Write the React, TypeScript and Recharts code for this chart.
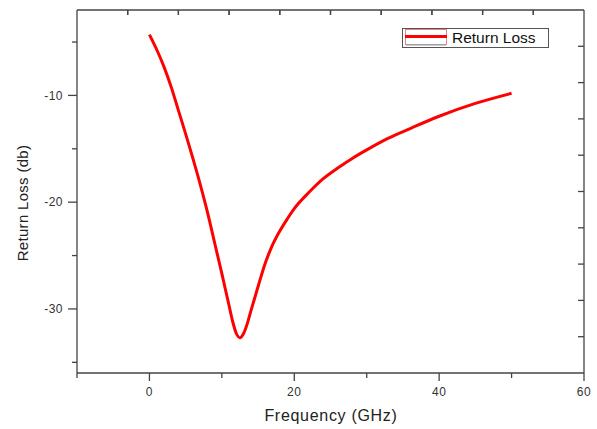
import React from 'react';
import { LineChart, Line, XAxis, YAxis, Legend, Label } from 'recharts';

const frequency = [0, 1, 2, 3, 4, 5, 6, 7, 8, 9, 10, 11, 11.5, 12, 12.5, 13, 13.5, 14, 15, 16, 17, 18, 19, 20, 22, 24, 26, 28, 30, 33, 36, 40, 45, 50];
const returnLoss = [-4.3, -5.7, -7.3, -9.2, -11.4, -13.6, -15.9, -18.3, -20.9, -23.8, -26.7, -29.7, -31.2, -32.3, -32.7, -32.3, -31.4, -30.2, -27.9, -25.7, -24.0, -22.7, -21.6, -20.6, -19.1, -17.8, -16.8, -15.9, -15.1, -14.0, -13.1, -11.95, -10.75, -9.8];

const xTicks = [-10, 0, 10, 20, 30, 40, 50, 60];
const yTicks = [-35, -30, -25, -20, -15, -10, -5];
const topTicks = [-3, 4, 11, 18, 25, 32, 39, 46, 53];
const rightTicks = [1, 2, 3, 4, 5, 6, 7, 8, 9];
const X_DOMAIN = [-10, 60];

const data = frequency.map((f, i) => ({ f, v: returnLoss[i] }));

const CHART_W = 597;
const CHART_H = 429;
const MARGIN = { top: 9, right: 12, bottom: 16, left: 17 };
const X_AXIS_H = 40;
const TOP_AXIS_H = 1;
const Y_AXIS_W = 60;
const RIGHT_AXIS_W = 1;
const PLOT_H = CHART_H - MARGIN.top - MARGIN.bottom - X_AXIS_H - TOP_AXIS_H;
const PLOT_W = CHART_W - MARGIN.left - MARGIN.right - Y_AXIS_W - RIGHT_AXIS_W;

const FONT = '"Liberation Sans", Arial, sans-serif';
const AXIS = '#444';
const TEXT = '#333';

const BottomTick = (props: any) => {
  const { x, y, payload } = props;
  const major = payload.value % 20 === 0;
  const len = major ? 8 : 5;
  return (
    <g>
      <line x1={x} x2={x} y1={y} y2={y + len} stroke={AXIS} strokeWidth={1.3} />
      {major && (
        <text x={x} y={y + 14} dy="0.71em" textAnchor="middle" fontSize={12} fill={TEXT} fontFamily={FONT} letterSpacing={0.5}>
          {payload.value}
        </text>
      )}
    </g>
  );
};

const LeftTick = (props: any) => {
  const { x, y, payload } = props;
  const major = payload.value % 10 === 0;
  const len = major ? 9 : 5;
  return (
    <g>
      <line x1={x - len} x2={x} y1={y} y2={y} stroke={AXIS} strokeWidth={1.3} />
      {major && (
        <text x={x - 14} y={y} dy="0.36em" textAnchor="end" fontSize={12} fill={TEXT} fontFamily={FONT} letterSpacing={0.5}>
          {payload.value}
        </text>
      )}
    </g>
  );
};

// Right-frame ticks; the last one also draws the inward ticks of the top frame edge.
const RightTick = (props: any) => {
  const { x, y, payload } = props;
  const isLast = payload.value === rightTicks[rightTicks.length - 1];
  const plotTop = y - ((10 - payload.value) / 10) * PLOT_H;
  const plotLeft = x - PLOT_W;
  return (
    <g>
      <line x1={x - 6} x2={x} y1={y} y2={y} stroke={AXIS} strokeWidth={1.3} />
      {isLast &&
        topTicks.map((t) => {
          const tx = plotLeft + ((t - X_DOMAIN[0]) / (X_DOMAIN[1] - X_DOMAIN[0])) * PLOT_W;
          return <line key={t} x1={tx} x2={tx} y1={plotTop} y2={plotTop + 5} stroke={AXIS} strokeWidth={1.3} />;
        })}
    </g>
  );
};

const LegendBox = () => (
  <div
    style={{
      display: 'flex',
      alignItems: 'center',
      border: '1px solid #555',
      width: 147,
      height: 20,
      boxSizing: 'border-box',
      background: '#fff',
      fontFamily: FONT,
    }}
  >
    <div style={{ position: 'relative', width: 44, height: 18, marginLeft: 2 }}>
      <div style={{ position: 'absolute', left: 0, top: 0, width: 42, height: 16, border: '1px solid #f08080', boxSizing: 'border-box' }} />
      <div style={{ position: 'absolute', left: 0, top: 6, width: 42, height: 3, background: '#ff0000' }} />
      <div style={{ position: 'absolute', left: 1, top: 16, width: 40, height: 1, background: '#7fe8f0' }} />
    </div>
    <span style={{ fontSize: 15.5, color: '#111', marginLeft: 3, whiteSpace: 'nowrap' }}>Return Loss</span>
  </div>
);

export default function App() {
  return (
    <div style={{ position: 'absolute', left: 0, top: 0, background: '#fff' }}>
      <LineChart width={CHART_W} height={CHART_H} data={data} margin={MARGIN}>
        <XAxis
          xAxisId="main"
          dataKey="f"
          type="number"
          domain={X_DOMAIN}
          allowDataOverflow
          ticks={xTicks}
          interval={0}
          height={X_AXIS_H}
          tickSize={0}
          tickMargin={0}
          tickLine={false}
          tick={<BottomTick />}
          axisLine={{ stroke: AXIS, strokeWidth: 1.3 }}
        >
          <Label
            content={() => (
              <text x={331} y={421} textAnchor="middle" fontSize={16} fill="#222" fontFamily={FONT} letterSpacing={0.7}>
                Frequency (GHz)
              </text>
            )}
          />
        </XAxis>
        <XAxis
          xAxisId="top"
          orientation="top"
          dataKey="f"
          type="number"
          domain={X_DOMAIN}
          allowDataOverflow
          ticks={topTicks}
          interval={0}
          height={TOP_AXIS_H}
          tickSize={-5}
          tickMargin={0}
          tickFormatter={() => ''}
          tickLine={{ stroke: AXIS, strokeWidth: 1.3 }}
          axisLine={{ stroke: AXIS, strokeWidth: 1.3 }}
        />
        <YAxis
          yAxisId="main"
          type="number"
          domain={[-36, -2]}
          allowDataOverflow
          ticks={yTicks}
          interval={0}
          width={Y_AXIS_W}
          tickSize={0}
          tickMargin={0}
          tickLine={false}
          tick={<LeftTick />}
          axisLine={{ stroke: AXIS, strokeWidth: 1.3 }}
        >
          <Label
            content={() => (
              <text x={28} y={203} transform="rotate(-90 28 203)" textAnchor="middle" fontSize={15} fill="#222" fontFamily={FONT} letterSpacing={0.3}>
                Return Loss (db)
              </text>
            )}
          />
        </YAxis>
        <YAxis
          yAxisId="right"
          orientation="right"
          type="number"
          domain={[0, 10]}
          allowDataOverflow
          ticks={rightTicks}
          interval={0}
          width={RIGHT_AXIS_W}
          tickSize={0}
          tickMargin={0}
          tickLine={false}
          tick={<RightTick />}
          axisLine={{ stroke: AXIS, strokeWidth: 1.3 }}
        />
        <Legend
          layout="horizontal"
          verticalAlign="middle"
          align="center"
          content={() => <LegendBox />}
          wrapperStyle={{ left: 402, top: 28, width: 147, height: 20 }}
        />
        <Line
          xAxisId="main"
          yAxisId="main"
          dataKey="v"
          name="Return Loss"
          type="monotone"
          stroke="#ff0000"
          strokeWidth={3}
          dot={false}
          isAnimationActive={false}
        />
      </LineChart>
    </div>
  );
}
